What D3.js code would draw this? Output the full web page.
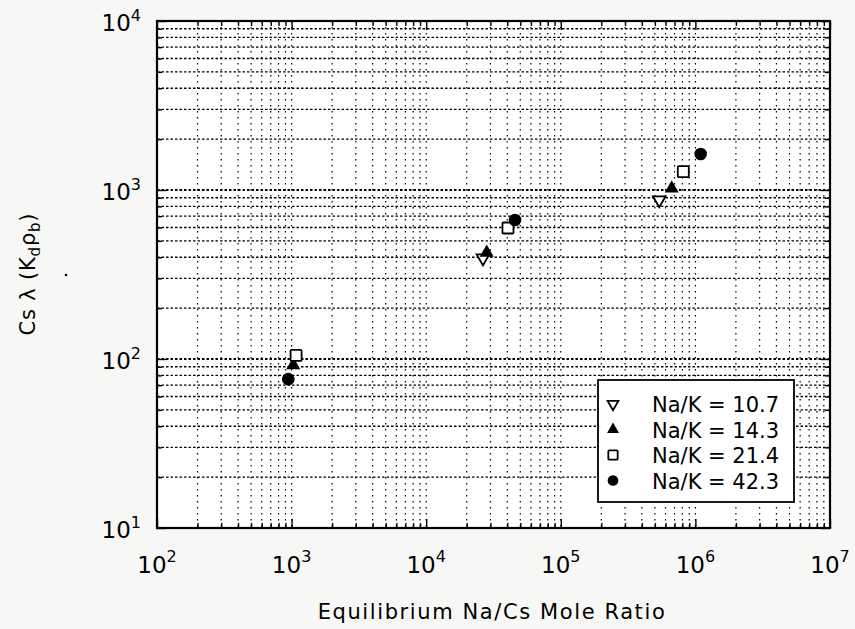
<!DOCTYPE html>
<html>
<head>
<meta charset="utf-8">
<script src="https://cdn.jsdelivr.net/npm/d3@7"></script>
<style>
  body { margin: 0; background: #f7f8f6; }
  svg { display: block; }
  text { font-family: "DejaVu Sans", sans-serif; fill: #000; }
</style>
</head>
<body>
<script>
// data
var xDecades = [2, 3, 4, 5, 6, 7];
var yDecades = [1, 2, 3, 4];
var seriesNames = ["Na/K = 10.7", "Na/K = 14.3", "Na/K = 21.4", "Na/K = 42.3"];
var naK107x = [26400, 539000];
var naK107y = [396, 873];
var naK143x = [1029, 28150, 667000];
var naK143y = [92, 426, 1023];
var naK214x = [1080, 40500, 813000];
var naK214y = [105, 596, 1283];
var naK423x = [945, 45700, 1094000];
var naK423y = [76, 664, 1633];

var W = 855, H = 629;
var margin = {top: 21, right: 25, bottom: 101, left: 157};
var width = W - margin.left - margin.right,
    height = H - margin.top - margin.bottom;

var svg = d3.select("body").append("svg")
    .attr("width", W)
    .attr("height", H);

var x = d3.scaleLog().domain([1e2, 1e7]).range([0, width]);
var y = d3.scaleLog().domain([1e1, 1e4]).range([height, 0]);

var g = svg.append("g")
    .attr("transform", "translate(" + margin.left + "," + margin.top + ")");

g.append("rect").attr("width", width).attr("height", height).attr("fill", "#fff");

// every 1..9 value in each decade
function gridVals(scale) {
  var d = scale.domain(), out = [];
  for (var e = Math.log10(d[0]); e < Math.log10(d[1]); e++) {
    for (var k = 1; k < 10; k++) out.push(k * Math.pow(10, e));
  }
  out.push(d[1]);
  return out;
}
var xGrid = gridVals(x), yGrid = gridVals(y);
function isMajor(v) { return Math.abs(Math.log10(v) - Math.round(Math.log10(v))) < 1e-9; }

// vertical grid (sparse dots)
g.selectAll(".vgrid").data(xGrid).enter().append("line")
    .attr("x1", function(d){ return x(d); }).attr("x2", function(d){ return x(d); })
    .attr("y1", 0).attr("y2", height)
    .attr("stroke", "#000").attr("stroke-width", 1.2)
    .attr("stroke-dasharray", "1.5,4.5");

// horizontal grid (dense dashes)
g.selectAll(".hgrid").data(yGrid).enter().append("line")
    .attr("y1", function(d){ return y(d); }).attr("y2", function(d){ return y(d); })
    .attr("x1", 0).attr("x2", width)
    .attr("stroke", "#000")
    .attr("stroke-width", function(d){ return isMajor(d) ? 1.8 : 1.3; })
    .attr("stroke-dasharray", "2.5,2");

// inward ticks on all four sides
var bottomAxis = d3.axisBottom(x).tickValues(xGrid).tickFormat("")
    .tickSizeInner(-5).tickSizeOuter(0);
var topAxis = d3.axisTop(x).tickValues(xGrid).tickFormat("")
    .tickSizeInner(-5).tickSizeOuter(0);
var leftAxis = d3.axisLeft(y).tickValues(yGrid).tickFormat("")
    .tickSizeInner(-5).tickSizeOuter(0);
var rightAxis = d3.axisRight(y).tickValues(yGrid).tickFormat("")
    .tickSizeInner(-5).tickSizeOuter(0);

function styleAxis(sel) {
  sel.select(".domain").remove();
  sel.selectAll(".tick line").attr("stroke", "#000").attr("stroke-width", 1.4);
}
g.append("g").attr("transform", "translate(0," + height + ")").call(bottomAxis).call(styleAxis)
  .selectAll(".tick line").attr("y2", function(d){ return isMajor(d) ? -9 : -5; });
g.append("g").call(topAxis).call(styleAxis)
  .selectAll(".tick line").attr("y2", function(d){ return isMajor(d) ? 9 : 5; });
g.append("g").call(leftAxis).call(styleAxis)
  .selectAll(".tick line").attr("x2", function(d){ return isMajor(d) ? 9 : 5; });
g.append("g").attr("transform", "translate(" + width + ",0)").call(rightAxis).call(styleAxis)
  .selectAll(".tick line").attr("x2", function(d){ return isMajor(d) ? -9 : -5; });

// frame
g.append("rect").attr("width", width).attr("height", height)
    .attr("fill", "none").attr("stroke", "#000").attr("stroke-width", 2.2);

// tick labels as powers of ten
var xl = g.selectAll(".xlab").data(xDecades).enter().append("text")
    .attr("x", function(d){ return x(Math.pow(10, d)); })
    .attr("y", height + 45)
    .attr("text-anchor", "middle")
    .style("font-size", "23px");
xl.append("tspan").text("10");
xl.append("tspan").attr("dy", -11).style("font-size", "16px").text(function(d){ return d; });

var yl = g.selectAll(".ylab").data(yDecades).enter().append("text")
    .attr("x", -16)
    .attr("y", function(d){ return y(Math.pow(10, d)) + 10; })
    .attr("text-anchor", "end")
    .style("font-size", "23px");
yl.append("tspan").text("10");
yl.append("tspan").attr("dy", -10).style("font-size", "16px").text(function(d){ return d; });

// axis titles
svg.append("text")
    .attr("x", 492).attr("y", 619)
    .attr("text-anchor", "middle")
    .style("font-size", "21px")
    .style("letter-spacing", "1.6px")
    .text("Equilibrium Na/Cs Mole Ratio");

var yt = svg.append("text")
    .attr("transform", "translate(35,274) rotate(-90)")
    .attr("text-anchor", "middle")
    .style("font-size", "21px")
    .style("letter-spacing", "0.8px");
yt.append("tspan").text("Cs \u03bb (K");
yt.append("tspan").attr("dy", 5).style("font-size", "15px").text("d");
yt.append("tspan").attr("dy", -5).text("\u03c1");
yt.append("tspan").attr("dy", 5).style("font-size", "15px").text("b");
yt.append("tspan").attr("dy", -5).text(")");

svg.append("circle").attr("cx", 66).attr("cy", 275).attr("r", 1.3).attr("fill", "#000");

// markers
var series = [
  {xs: naK107x, ys: naK107y, shape: "tridown"},
  {xs: naK143x, ys: naK143y, shape: "triup"},
  {xs: naK214x, ys: naK214y, shape: "square"},
  {xs: naK423x, ys: naK423y, shape: "circle"}
];

function drawMarker(sel, shape, s) {
  if (shape === "tridown") {
    sel.append("path").attr("d", d3.symbol().type(d3.symbolTriangle).size(70 * s * s)())
      .attr("transform", "rotate(180)")
      .attr("fill", "#fff").attr("stroke", "#000").attr("stroke-width", 1.8);
  } else if (shape === "triup") {
    sel.append("path").attr("d", d3.symbol().type(d3.symbolTriangle).size(85 * s * s)())
      .attr("fill", "#000");
  } else if (shape === "square") {
    sel.append("rect").attr("x", -5.5 * s).attr("y", -5.5 * s)
      .attr("width", 11 * s).attr("height", 11 * s).attr("rx", 1)
      .attr("fill", "#fff").attr("stroke", "#000").attr("stroke-width", 1.8);
  } else {
    sel.append("circle").attr("r", 6.3 * s).attr("fill", "#000");
  }
}

series.forEach(function(sr) {
  sr.xs.forEach(function(v, i) {
    var m = g.append("g")
      .attr("transform", "translate(" + x(v) + "," + y(sr.ys[i]) + ")");
    drawMarker(m, sr.shape, 1);
  });
});

// legend
var lg = svg.append("g");
lg.append("rect").attr("x", 598).attr("y", 380).attr("width", 196).attr("height", 122)
    .attr("fill", "#fff").attr("stroke", "#000").attr("stroke-width", 1.8);
seriesNames.forEach(function(name, i) {
  var cy = 404 + i * 25.5;
  var m = lg.append("g").attr("transform", "translate(613," + cy + ")");
  drawMarker(m, series[i].shape, 0.85);
  lg.append("text").attr("x", 652).attr("y", cy + 8)
    .style("font-size", "21px").text(name);
});
</script>
</body>
</html>
